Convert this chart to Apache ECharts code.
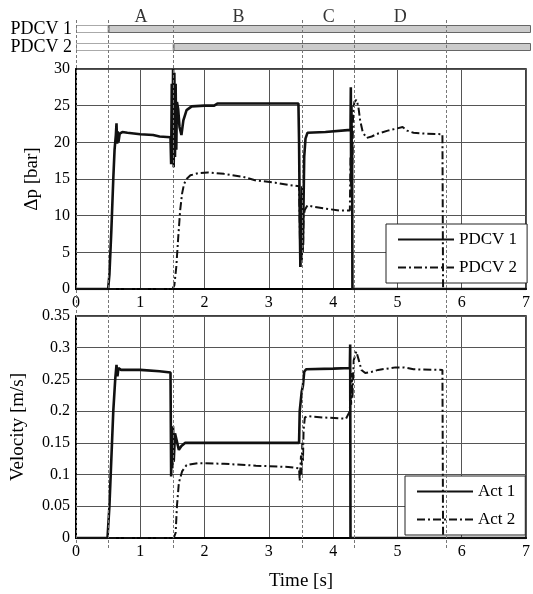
<!DOCTYPE html>
<html lang="en" style="height: 100%">
<head>
  <meta charset="utf-8">
</head>
<body style="height: 100%; margin: 0; background: #fff">
  <div id="container" style="width: 533px; height: 594px"></div>

  <script type="text/javascript" src="https://cdn.jsdelivr.net/npm/echarts@6/dist/echarts.min.js"></script>

  <script type="text/javascript">
    // phases and valve switching (time in s)
    var phaseNames = ['A', 'B', 'C', 'D'];
    var phaseCenters = [1.0, 2.5, 3.89, 4.99];
    var switchTimes = [0, 0.5, 1.5, 3.48, 4.28, 5.7];
    var valveNames = ['PDCV 2', 'PDCV 1'];
    var valveOpenAt = [1.5, 0.5];
    var T_END = 7;

    // pressure difference [bar]
    var dpPdcv1 = [[0,0],[0.5,0],[0.52,2],[0.55,8],[0.58,15],[0.6,19],[0.62,21],[0.63,22.6],[0.64,19.8],[0.65,21.5],[0.66,20],
      [0.68,21.2],[0.72,21.4],[0.8,21.3],[1.0,21.1],[1.2,21.0],[1.3,20.8],[1.47,20.7],[1.48,17],[1.49,28],[1.5,17.5],[1.51,30],
      [1.52,16.6],[1.53,29.5],[1.54,18],[1.55,28],[1.56,19],[1.57,25.5],[1.59,24.5],[1.61,22.1],[1.64,21],[1.67,23],[1.72,24.4],
      [1.8,24.9],[2.0,25],[2.15,25],[2.2,25.3],[3.46,25.3],[3.47,20],[3.48,10],[3.49,3],[3.5,9],[3.51,4],[3.52,14],[3.53,6],
      [3.55,18],[3.57,20.5],[3.6,21.3],[3.88,21.4],[3.9,21.6],[4.27,21.7],[4.275,27.5],[4.28,14],[4.285,25],[4.29,13],
      [4.295,20],[4.3,0],[7,0]];
    var dpPdcv2 = [[0,0],[1.5,0],[1.53,0.5],[1.56,3],[1.59,7],[1.62,10.7],[1.65,13],[1.68,14.3],[1.72,15],[1.78,15.5],[1.9,15.8],
      [2.05,15.9],[2.3,15.7],[2.6,15.3],[2.8,14.8],[3.1,14.5],[3.3,14.2],[3.47,14.0],[3.48,9],[3.49,3],[3.5,8],[3.51,4],[3.52,9],
      [3.53,5],[3.54,10],[3.56,10.8],[3.6,11.4],[3.7,11.2],[3.85,11],[4.1,10.7],[4.26,10.7],[4.27,18],[4.28,15],[4.29,22],
      [4.3,17],[4.31,24],[4.33,25.5],[4.36,25.8],[4.39,25],[4.42,23],[4.46,21.4],[4.52,20.6],[4.6,20.8],[4.7,21.2],[4.85,21.6],
      [5.0,21.9],[5.08,22.1],[5.15,21.6],[5.25,21.3],[5.4,21.2],[5.7,21.1],[5.71,0],[7,0]];

    // actuator velocity [m/s]
    var velAct1 = [[0,0],[0.49,0],[0.52,0.05],[0.54,0.1],[0.56,0.15],[0.58,0.2],[0.61,0.25],[0.63,0.273],[0.645,0.255],
      [0.66,0.268],[0.7,0.265],[1.0,0.265],[1.3,0.263],[1.47,0.261],[1.48,0.097],[1.49,0.17],[1.5,0.11],[1.51,0.176],
      [1.52,0.12],[1.54,0.165],[1.57,0.166],[1.6,0.139],[1.64,0.145],[1.7,0.15],[3.47,0.15],[3.48,0.2],[3.51,0.23],
      [3.53,0.24],[3.55,0.262],[3.58,0.266],[4.0,0.267],[4.26,0.268],[4.265,0.305],[4.27,0],[7,0]];
    var velAct2 = [[0,0],[1.52,0],[1.55,0.008],[1.57,0.05],[1.6,0.087],[1.65,0.105],[1.72,0.115],[1.9,0.118],[2.3,0.117],
      [2.8,0.114],[3.3,0.112],[3.47,0.11],[3.48,0.09],[3.5,0.13],[3.51,0.1],[3.52,0.15],[3.53,0.12],[3.54,0.17],[3.56,0.19],
      [3.6,0.192],[3.85,0.19],[4.2,0.188],[4.26,0.2],[4.27,0.24],[4.28,0.21],[4.29,0.26],[4.3,0.22],[4.32,0.28],[4.36,0.294],
      [4.4,0.28],[4.44,0.265],[4.5,0.26],[4.6,0.262],[4.7,0.265],[4.97,0.269],[5.1,0.269],[5.25,0.266],[5.7,0.265],[5.71,0],[7,0]];

    var FONT = 'Liberation Serif';
    var DASHDOT = [8, 3, 2, 3];

    var chart = echarts.init(document.getElementById('container'), null, { renderer: 'canvas' });

    function timeAxis(gridIndex, showLabels) {
      return {
        type: 'value', gridIndex: gridIndex, min: 0, max: T_END, interval: 1,
        axisLine: { show: true, onZero: false, lineStyle: { color: '#000', width: 2 } },
        axisTick: { show: false },
        axisLabel: { show: showLabels, color: '#000', fontFamily: FONT, fontSize: 16, margin: 6 },
        splitLine: { show: true, lineStyle: { color: '#555', width: 1 } }
      };
    }

    function lineSeries(name, data, xi, dashed) {
      return {
        name: name, type: 'line', xAxisIndex: xi, yAxisIndex: xi, data: data,
        symbol: 'none', animation: false, z: 4,
        itemStyle: { color: '#111' },
        lineStyle: { color: '#111', width: dashed ? 2 : 2.6, type: dashed ? DASHDOT : 'solid' }
      };
    }

    function legendBox(names, left, top) {
      return {
        data: names, orient: 'vertical', left: left, top: top,
        itemWidth: 56, itemHeight: 14, itemGap: 11,
        padding: [7, 10, 7, 11],
        borderColor: '#222', borderWidth: 1, backgroundColor: '#fff',
        itemStyle: { opacity: 0 },
        textStyle: { color: '#000', fontFamily: FONT, fontSize: 17 },
        selectedMode: false
      };
    }

    var option = {
      backgroundColor: '#fff',
      animation: false,
      grid: [
        { left: 76, right: 2, top: 20, height: 36 },
        { left: 76, right: 2, top: 69, height: 220, show: true, borderColor: '#000', borderWidth: 1.5 },
        { left: 76, right: 2, top: 316, height: 222, show: true, borderColor: '#000', borderWidth: 1.5 },
        { left: 76, right: 2, top: 18, height: 530 }
      ],
      xAxis: [
        { type: 'value', gridIndex: 0, min: 0, max: T_END, show: false },
        timeAxis(1, true),
        Object.assign(timeAxis(2, true), {
          name: 'Time [s]', nameLocation: 'middle', nameGap: 34,
          nameTextStyle: { color: '#000', fontFamily: FONT, fontSize: 19 }
        }),
        { type: 'value', gridIndex: 3, min: 0, max: T_END, show: false }
      ],
      yAxis: [
        {
          type: 'category', gridIndex: 0, data: valveNames,
          axisLine: { show: false }, axisTick: { show: false },
          axisLabel: { interval: 0, color: '#000', fontFamily: FONT, fontSize: 18, margin: 4 }
        },
        {
          type: 'value', gridIndex: 1, min: 0, max: 30, interval: 5,
          name: 'Δp [bar]', nameLocation: 'middle', nameGap: 34,
          nameTextStyle: { color: '#000', fontFamily: FONT, fontSize: 19 },
          axisLine: { show: true, lineStyle: { color: '#000', width: 2 } },
          axisTick: { show: false },
          axisLabel: { color: '#000', fontFamily: FONT, fontSize: 16, margin: 6 },
          splitLine: { lineStyle: { color: '#555', width: 1 } }
        },
        {
          type: 'value', gridIndex: 2, min: 0, max: 0.35, interval: 0.05,
          name: 'Velocity [m/s]', nameLocation: 'middle', nameGap: 48,
          nameTextStyle: { color: '#000', fontFamily: FONT, fontSize: 19 },
          axisLine: { show: true, lineStyle: { color: '#000', width: 2 } },
          axisTick: { show: false },
          axisLabel: { color: '#000', fontFamily: FONT, fontSize: 16, margin: 6 },
          splitLine: { lineStyle: { color: '#555', width: 1 } }
        },
        { type: 'value', gridIndex: 3, min: 0, max: 1, show: false }
      ],
      legend: [
        legendBox(['PDCV 1', 'PDCV 2'], 386, 224),
        legendBox(['Act 1', 'Act 2'], 405, 476)
      ],
      series: [
        // valve state bands
        {
          name: 'closed', type: 'bar', xAxisIndex: 0, yAxisIndex: 0, stack: 'valve', barWidth: 8,
          data: valveOpenAt, silent: true,
          itemStyle: { color: 'rgba(0,0,0,0)', borderColor: '#aaa', borderWidth: 1 }
        },
        {
          name: 'open', type: 'bar', xAxisIndex: 0, yAxisIndex: 0, stack: 'valve', barWidth: 8,
          data: valveOpenAt.map(function (t) { return T_END - t; }), silent: true,
          itemStyle: { color: '#cbcbcb', borderColor: '#666', borderWidth: 1 }
        },
        {
          name: 'phases', type: 'scatter', xAxisIndex: 0, yAxisIndex: 0, symbolSize: 1, silent: true,
          itemStyle: { color: 'rgba(0,0,0,0)' },
          data: phaseCenters.map(function (t, i) { return { name: phaseNames[i], value: [t, 'PDCV 1'] }; }),
          label: { show: true, position: 'top', distance: 2, formatter: '{b}', color: '#000', fontFamily: FONT, fontSize: 18 }
        },
        // switching instants
        {
          name: 'switch', type: 'line', xAxisIndex: 3, yAxisIndex: 3, data: [], silent: true, z: 3,
          markLine: {
            symbol: 'none', silent: true, animation: false, label: { show: false },
            lineStyle: { color: '#777', width: 1, type: [3, 2] },
            data: switchTimes.map(function (t) { return { xAxis: t }; })
          }
        },
        lineSeries('PDCV 1', dpPdcv1, 1, false),
        lineSeries('PDCV 2', dpPdcv2, 1, true),
        lineSeries('Act 1', velAct1, 2, false),
        lineSeries('Act 2', velAct2, 2, true)
      ]
    };

    chart.setOption(option);
  </script>
</body>
</html>
